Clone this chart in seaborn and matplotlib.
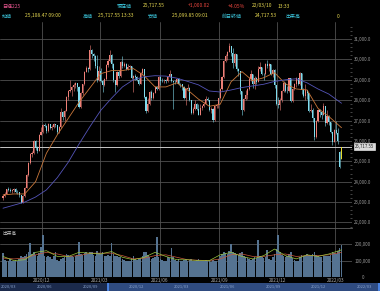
import numpy as np
import pandas as pd
import matplotlib.pyplot as plt
import matplotlib.transforms as mtransforms
import seaborn as sns

# 日経225  2営業日ごとのローソク足 (2020/10/01 - 2022/03/10)
opens = [
    23190, 23310, 23420, 23620, 23600, 23550, 23580, 23640, 23520, 23480, 23330,
    22980, 23300, 23700, 24330, 24910, 25350, 25390, 26010, 25630, 25530, 26300,
    26430, 26800, 26750, 26470, 26820, 26650, 26690, 26810, 26760, 26440, 26660,
    27440, 27160, 27490, 28140, 28460, 28520, 28630, 28760, 28820, 28640,
    27660, 28360, 28780, 29390, 29560, 29520, 30470, 30240, 30160, 29670,
    28970, 29410, 28930, 28740, 29040, 29720, 29920, 30220, 29790, 28990, 28730, 29380,
    29180, 29850, 29700, 29770, 29540, 29640, 29680, 29100, 29190, 29130, 28990,
    28810, 29330, 29520, 28150, 27450, 27820, 28400, 28100, 28360, 28640, 28550,
    29150, 28950, 28940, 28960, 28950, 29160, 29290, 28960, 28880, 28870, 29050,
    28790, 28780, 28640, 28120, 28570, 28610, 28000, 27390, 27550, 27830, 27580,
    27280, 27640, 27730, 27820, 28070, 28010, 27520, 27590, 27010, 27730, 27740,
    28090, 28540, 29130, 29920, 30180, 30380, 30670, 30320, 29840, 30250, 29540,
    29450, 28440, 27530, 28050, 28230, 28550, 29030, 29260, 28800, 29110,
    28890, 29520, 29610, 29290, 29280, 29780, 29690, 29750, 29300, 29500, 28750,
    27820, 27750, 28030, 28460, 28860, 28440, 28430, 29070, 27940, 28560, 28780, 29070,
    28790, 29330, 28480, 28220, 28490, 28330, 27470, 27520, 27130, 26170,
    27000, 27530, 27440, 27280, 27700, 26870, 27230, 26910, 26450, 25970,
    26530, 26390, 25460, 25108.47,
]
highs = [
    23380, 23480, 23660, 23720, 23670, 23640, 23700, 23680, 23570, 23510, 23360,
    23340, 23730, 24360, 24990, 25410, 25520, 26060, 26040, 25730, 26340, 26700,
    26850, 26900, 26780, 26880, 26850, 26760, 26870, 26850, 26780, 26710, 27600,
    27460, 27520, 28190, 28520, 28980, 28700, 28860, 28870, 28860, 28690,
    28400, 28800, 29420, 29690, 29640, 30710, 30500, 30300, 30200, 30200,
    29680, 29600, 29000, 29100, 29760, 30000, 30480, 30250, 29800, 29000, 29420, 29500,
    29910, 30170, 29880, 29800, 29780, 29740, 29700, 29250, 29280, 29170, 29080,
    29380, 29580, 29520, 28180, 28120, 28440, 28500, 28400, 28700, 28700, 29200,
    29200, 29100, 29050, 29030, 29180, 29480, 29300, 28960, 28980, 29100, 29080,
    28850, 28800, 28700, 28600, 28800, 28650, 28010, 27650, 28000, 27850, 27800,
    27820, 27780, 27920, 28200, 28150, 28020, 27680, 27600, 27780, 27830, 28120,
    28600, 29170, 29950, 30250, 30400, 30800, 30680, 30550, 30300, 30260, 29600,
    29450, 28450, 28090, 28520, 28600, 29150, 29480, 29280, 29200, 29150,
    29700, 29880, 29650, 29330, 29820, 29960, 29800, 29780, 29530, 29520, 28760,
    28150, 28100, 28500, 28920, 28870, 28700, 29100, 29080, 28600, 28850, 29120, 29110,
    29390, 29340, 28600, 28800, 28500, 28340, 27830, 27600, 27140, 27050,
    27580, 27560, 27450, 27880, 27700, 27500, 27250, 26950, 26460, 26600,
    26960, 26650, 25500, 25717.55,
]
lows = [
    23100, 23250, 23390, 23540, 23480, 23470, 23520, 23460, 23400, 23260, 22950,
    22950, 23260, 23680, 24300, 24860, 25200, 25350, 25580, 25420, 25500, 26280,
    26400, 26690, 26400, 26450, 26580, 26560, 26650, 26680, 26360, 26400, 26640,
    27040, 27000, 27460, 28020, 28400, 28200, 28450, 28600, 28460, 27620,
    27630, 28260, 28740, 29380, 29400, 29500, 30050, 29900, 29600, 28900,
    28950, 28900, 28380, 28700, 29000, 29640, 29850, 29600, 28900, 28380, 28700, 29100,
    29150, 29600, 29640, 29480, 29500, 29560, 29050, 28420, 28980, 28920, 28760,
    28790, 29250, 28100, 27380, 27430, 27750, 28000, 28060, 28340, 28480, 28500,
    28720, 28880, 28830, 28850, 28900, 29150, 28900, 27590, 28800, 28820, 28760,
    28650, 28500, 28050, 27780, 28530, 27950, 27330, 27340, 27520, 27520, 27270,
    27270, 27510, 27650, 27800, 27950, 27480, 27350, 26950, 27000, 27620, 27600,
    28080, 28500, 29100, 29880, 29950, 30340, 30180, 29600, 29700, 29450, 29200,
    28280, 27290, 27450, 28000, 28050, 28520, 28950, 28600, 28550, 28800,
    28880, 29450, 29250, 28980, 29250, 29600, 29450, 29250, 29150, 28600, 27780,
    27600, 27510, 27900, 28400, 28380, 28350, 28400, 27890, 27900, 28520, 28650, 28750,
    28760, 28320, 28150, 28000, 28050, 27400, 27400, 26950, 26040, 26150,
    26950, 27150, 27100, 27250, 26720, 26850, 26800, 26400, 25780, 25950,
    26340, 25850, 24680, 25099.85,
]
closes = [
    23310, 23420, 23620, 23600, 23550, 23580, 23640, 23520, 23480, 23330, 22980,
    23300, 23700, 24330, 24910, 25350, 25390, 26010, 25630, 25530, 26300, 26430,
    26800, 26750, 26470, 26820, 26650, 26690, 26810, 26760, 26440, 26660, 27440,
    27160, 27490, 28140, 28460, 28520, 28630, 28760, 28820, 28640, 27660,
    28360, 28780, 29390, 29560, 29520, 30470, 30240, 30160, 29670, 28970,
    29410, 28930, 28740, 29040, 29720, 29920, 30220, 29790, 28990, 28730, 29380, 29180,
    29850, 29700, 29770, 29540, 29640, 29680, 29100, 29190, 29130, 28990, 28810,
    29330, 29520, 28150, 27450, 27820, 28400, 28100, 28360, 28640, 28550, 29150,
    28950, 28940, 28960, 28950, 29160, 29290, 28960, 28880, 28870, 29050, 28790,
    28780, 28640, 28120, 28570, 28610, 28000, 27390, 27550, 27830, 27580, 27280,
    27640, 27730, 27820, 28070, 28010, 27520, 27590, 27010, 27730, 27740, 28090,
    28540, 29130, 29920, 30180, 30380, 30670, 30320, 29840, 30250, 29540, 29450,
    28440, 27530, 28050, 28230, 28550, 29030, 29260, 28800, 29110, 28890,
    29520, 29610, 29290, 29280, 29780, 29690, 29750, 29300, 29500, 28750, 27820,
    27750, 28030, 28460, 28860, 28440, 28430, 29070, 27940, 28560, 28780, 29070, 28790,
    29330, 28480, 28220, 28490, 28330, 27470, 27520, 27130, 26170, 27000,
    27530, 27440, 27280, 27700, 26870, 27230, 26910, 26450, 25970, 26530,
    26390, 25990, 24720, 25717.55,
]
volumes = [
    145, 105, 95, 100, 110, 95, 100, 105, 95, 110, 130,
    120, 125, 140, 150, 205, 140, 150, 135, 130, 145, 180,
    255, 130, 120, 125, 120, 110, 130, 150, 105, 100, 110,
    115, 120, 140, 135, 125, 130, 120, 125, 135, 215,
    140, 135, 145, 150, 140, 155, 150, 135, 130, 160,
    145, 140, 150, 130, 125, 135, 130, 205, 140, 130, 125, 120,
    120, 110, 105, 100, 95, 100, 115, 125, 110, 105, 110,
    115, 125, 150, 150, 135, 120, 110, 115, 120, 245, 120,
    110, 105, 100, 100, 120, 115, 175, 120, 105, 100, 110,
    95, 100, 105, 110, 100, 105, 110, 100, 95, 105, 110,
    100, 95, 95, 105, 100, 95, 90, 105, 100, 95, 110,
    130, 140, 150, 145, 140, 160, 200, 150, 145, 140, 135,
    145, 150, 130, 120, 115, 110, 105, 110, 120, 115,
    225, 130, 120, 115, 120, 165, 110, 105, 120, 140, 170,
    255, 150, 135, 125, 120, 130, 140, 150, 115, 105, 100, 95,
    120, 135, 125, 130, 140, 135, 125, 140, 150, 135,
    125, 120, 120, 125, 130, 125, 130, 135, 150, 145,
    140, 160, 175, 195,
]
# moving averages, read every 6 candles (+ last candle)
ma25 = [23350, 23400, 23400, 24000, 25400, 26300, 27100, 27900, 28600, 29300, 29450,
        29450, 29550, 29200, 28650, 28650, 28850, 28500, 28050, 27700, 27800, 28900,
        29400, 28950, 29100, 29350, 28800, 28550, 28500, 27600, 27200, 26650]
ma75 = [22700, 22850, 23000, 23250, 23600, 24200, 24950, 25850, 26700, 27500, 28100,
        28650, 29000, 29150, 29200, 29180, 29080, 28920, 28750, 28450, 28400, 28500,
        28620, 28700, 28780, 28920, 29000, 29050, 28850, 28550, 28300, 27850]
vol_ma25 = [115, 110, 115, 135, 150, 140, 125, 130, 145, 145, 145, 130, 110, 115, 130, 135,
            120, 105, 102, 100, 110, 135, 140, 125, 125, 135, 140, 125, 130, 130, 135, 150]
vol_ma5 = [125, 100, 105, 150, 160, 125, 125, 150, 145, 140, 155, 120, 105, 120, 150, 125,
           105, 105, 100, 100, 135, 150, 125, 110, 130, 170, 130, 110, 135, 125, 140, 165]

month_starts = ['2020-12-01', '2021-03-01', '2021-06-01', '2021-09-01', '2021-12-01', '2022-03-01']
month_labels = ['2020/12', '2021/03', '2021/06', '2021/09', '2021/12', '2022/03']
nav_labels = ['2020/03', '2020/06', '2020/09', '2020/12', '2021/03', '2021/06',
              '2021/09', '2021/12', '2022/03']
price_ticks = [22000, 23000, 24000, 25000, 26000, 27000, 28000, 29000, 30000, 31000]
vol_ticks = [0, 100000, 200000]
last_price = 25717.55

sns.set_theme(style='dark', rc={'axes.facecolor': 'black', 'figure.facecolor': 'black',
                                'savefig.facecolor': 'black'})
plt.rcParams['font.family'] = ['Noto Sans CJK JP', 'DejaVu Sans']

O = np.array(opens, float)
H = np.array(highs, float)
L = np.array(lows, float)
C = np.array(closes, float)
V = np.array(volumes, float) * 1000
idx = np.arange(len(C))
dates = pd.bdate_range('2020-10-01', '2022-03-10')[::2]
tick_pos = [np.searchsorted(dates, pd.Timestamp(m)) - 0.5 for m in month_starts]
ma_pos = np.r_[np.arange(0, 181, 6), len(C) - 1]

UP, DOWN, GRID = '#ee7f77', '#80dcee', '#505050'
colors = np.where(C >= O, UP, DOWN).astype(object)
colors[-1] = '#e6dc2e'

fig = plt.figure(figsize=(3.8, 2.91), dpi=100)
ax_p = fig.add_axes([0, 0.2165, 0.9263, 0.7079])
ax_v = fig.add_axes([0, 0.0481, 0.9263, 0.1684])
ax_n = fig.add_axes([0, 0, 1, 0.0275])
xlim = (-1.66, 192.8)

# price panel
for x in tick_pos:
    ax_p.axvline(x, color=GRID, lw=0.6, zorder=0)
    ax_v.axvline(x, color=GRID, lw=0.6, zorder=0)
ax_p.set_yticks(price_ticks)
ax_p.set_yticklabels([f'{t:,.1f}' for t in price_ticks])
ax_p.set_yticks(np.arange(21800, 31800, 200), minor=True)
ax_p.grid(axis='y', which='major', color=GRID, lw=0.6)
ax_p.vlines(idx, L, H, colors=list(colors), lw=0.4, zorder=2)
ax_p.bar(idx, np.maximum(np.abs(C - O), 20), bottom=np.minimum(O, C), width=0.6,
         color=list(colors), lw=0, zorder=3)
sns.lineplot(x=ma_pos, y=ma25, ax=ax_p, color='#c9773a', lw=0.6, zorder=4)
sns.lineplot(x=ma_pos, y=ma75, ax=ax_p, color='#5454b8', lw=0.6, zorder=4)
ax_p.axhline(last_price, color='#c8c8c8', lw=0.7, zorder=1)
trans = mtransforms.blended_transform_factory(ax_p.transAxes, ax_p.transData)
ax_p.text(1.0085, last_price, f'{last_price:,.2f}', transform=trans, va='center', ha='left',
          fontsize=3.2, color='#222222', clip_on=False,
          bbox=dict(boxstyle='square,pad=0.25', fc='#dcdcdc', ec='#ffffff', lw=0.4))
ax_p.set_xlim(xlim)
ax_p.set_ylim(21730, 31834)
ax_p.yaxis.tick_right()
ax_p.tick_params(axis='y', which='major', length=0, pad=7.9, labelsize=3.2, labelcolor='#9a9a9a')
for lab in ax_p.get_yticklabels():
    lab.set_ha('center')
ax_p.tick_params(axis='y', which='minor', length=1.5, width=0.4, color='#777777', direction='in')
ax_p.tick_params(axis='x', bottom=False, labelbottom=False)
ax_p.set_xlabel('')
ax_p.set_ylabel('')
for s in ax_p.spines.values():
    s.set_visible(False)

# volume panel
sns.barplot(x=idx, y=V, ax=ax_v, native_scale=True, color='#557391', saturation=1,
            width=0.9, linewidth=0, zorder=2)
sns.lineplot(x=ma_pos, y=np.array(vol_ma25) * 1000, ax=ax_v, color='#c8583a', lw=0.5, zorder=3)
sns.lineplot(x=ma_pos, y=np.array(vol_ma5) * 1000, ax=ax_v, color='#9bc53d', lw=0.5, zorder=3)
ax_v.set_yticks(vol_ticks)
ax_v.set_yticklabels([f'{t:,}' for t in vol_ticks])
ax_v.grid(axis='y', color=GRID, lw=0.6)
ax_v.set_xlim(xlim)
ax_v.set_ylim(0, 298000)
ax_v.yaxis.tick_right()
ax_v.tick_params(axis='y', length=0, pad=7.9, labelsize=3.2, labelcolor='#9a9a9a')
for lab in ax_v.get_yticklabels():
    lab.set_ha('center')
ax_v.set_xticks(tick_pos)
ax_v.set_xticklabels(month_labels)
ax_v.tick_params(axis='x', length=0, pad=1, labelsize=3.4, labelcolor='#a8a8a8')
ax_v.set_xlabel('')
ax_v.set_ylabel('')
for name, s in ax_v.spines.items():
    s.set_visible(name == 'top')
ax_v.spines['top'].set_color('#606060')
ax_v.spines['top'].set_linewidth(0.6)
ax_v.text(0.008, 0.9, '出来高', transform=ax_v.transAxes, fontsize=3.4, color='#bbbbbb',
          va='center')

# navigator strip
ax_n.set_facecolor('#1b2a4c')
ax_n.set_xlim(0, 380)
ax_n.set_ylim(0, 1)
ax_n.axvspan(108, 380, color='#2f4b80', lw=0)
ax_n.axvline(108, color='#4f8ff7', lw=1.2)
ax_n.axvline(378.5, color='#4f8ff7', lw=1.2)
for i, lab in enumerate(nav_labels):
    x = max(i * 45.6 - 0.6, 1)
    ax_n.text(x, 0.5, lab, fontsize=2.9, color='#8aa3cc', va='center',
              ha='left' if i == 0 else 'center')
ax_n.set_xticks([])
ax_n.set_yticks([])
for s in ax_n.spines.values():
    s.set_visible(False)

# header
CYAN, YEL, RED = '#3cc6dc', '#e4d650', '#e8463e'
header = [
    (2, 6, '日経225', '#e2548c'), (117, 6, '現在値', CYAN), (143, 6, '25,717.55', YEL),
    (188, 6, '+1,000.02', RED), (228, 6, '+4.05%', RED), (252, 6, '22/03/10', YEL),
    (278, 6, '13:33', YEL),
    (2, 16, '始値', CYAN), (25, 16, '25,108.47 09:00', YEL), (83, 16, '高値', CYAN),
    (98, 16, '25,717.55 13:33', YEL), (148, 16, '安値', CYAN),
    (172, 16, '25,099.85 09:01', YEL), (222, 16, '前日終値', CYAN), (255, 16, '24,717.53', YEL),
    (285, 16, '出来高', CYAN), (337, 16, '0', YEL),
]
for x, y, s, c in header:
    fig.text(x / 380, 1 - y / 291, s, color=c, fontsize=3.6, ha='left', va='center')

fig.savefig('out.png', dpi=100, facecolor='black')
